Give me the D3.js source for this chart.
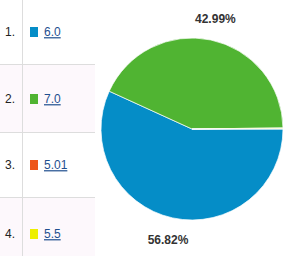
<!DOCTYPE html>
<html><head><meta charset="utf-8">
<script src="https://cdn.jsdelivr.net/npm/d3@7"></script>
<style>html,body{margin:0;padding:0;background:#fff;}svg{display:block;}</style>
</head><body>
<svg id="c" width="303" height="256"></svg>
<script>
const categories = ["6.0", "7.0", "5.01", "5.5"];
const values = [56.82, 42.99, 0.12, 0.07];
const percentLabels = ["56.82%", "42.99%", "", ""];
const colors = ["#058dc7", "#50b432", "#ed561b", "#edef00"];

const svg = d3.select("#c");
const rowTops = [0, 64, 132, 197, 256];

// table rows
const rows = svg.append("g");
categories.forEach((c, i) => {
  const y0 = rowTops[i], y1 = rowTops[i + 1];
  rows.append("rect").attr("x", 0).attr("y", y0).attr("width", 95).attr("height", y1 - y0)
    .attr("fill", i % 2 ? "#fdf8fc" : "#ffffff");
  if (i > 0) rows.append("line").attr("x1", 0).attr("x2", 95).attr("y1", y0 + 0.5).attr("y2", y0 + 0.5)
    .attr("stroke", "#dddddd");
  const cy = (i === 0 ? 32 : i === 1 ? 99 : i === 2 ? 165 : 234);
  rows.append("text").attr("x", 15).attr("y", cy).attr("text-anchor", "end").attr("dy", "0.35em")
    .attr("font-family", "Liberation Sans, Arial, sans-serif").attr("font-size", 12).attr("fill", "#222")
    .text((i + 1) + ".");
  rows.append("rect").attr("x", 30).attr("y", cy - 5).attr("width", 8).attr("height", 10).attr("fill", colors[i]);
  rows.append("text").attr("x", 44).attr("y", cy).attr("dy", "0.35em")
    .attr("font-family", "Liberation Sans, Arial, sans-serif").attr("font-size", 12).attr("fill", "#1f4f8f")
    .attr("text-decoration", "underline").text(c);
});
rows.append("line").attr("x1", 22.5).attr("x2", 22.5).attr("y1", 0).attr("y2", 256).attr("stroke", "#dddddd");

// pie
const cx = 192, cyc = 129, r = 91;
const pie = d3.pie().sort(null).value(d => d).startAngle(Math.PI / 2).endAngle(Math.PI / 2 + 2 * Math.PI);
const arcs = pie(values);
const arc = d3.arc().innerRadius(0).outerRadius(r);
const labelArc = d3.arc().innerRadius(113).outerRadius(113);
const g = svg.append("g").attr("transform", `translate(${cx},${cyc})`);
g.selectAll("path").data(arcs).join("path")
  .attr("d", arc).attr("fill", (d, i) => colors[i]).attr("stroke", "#ffffff").attr("stroke-width", 0.7);
g.selectAll("text").data(arcs).join("text")
  .attr("transform", d => `translate(${labelArc.centroid(d)})`)
  .attr("text-anchor", "middle").attr("dy", "0.35em")
  .attr("font-family", "Liberation Sans, Arial, sans-serif").attr("font-size", 12).attr("font-weight", "bold")
  .attr("fill", "#333333")
  .text((d, i) => percentLabels[i]);
</script>
</body></html>
